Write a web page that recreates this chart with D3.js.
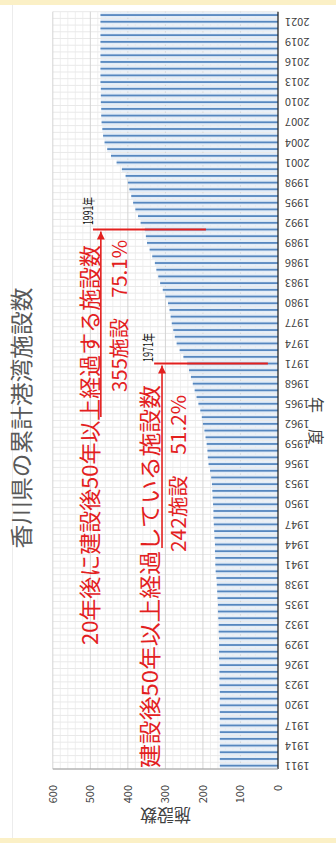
<!DOCTYPE html>
<html><head><meta charset="utf-8">
<script src="https://cdn.jsdelivr.net/npm/d3@7/dist/d3.min.js"></script>
<style>html,body{margin:0;padding:0;background:#fff;}svg{display:block;}</style>
</head><body>
<svg id="chart" width="336" height="843"></svg>
<script>
// ---- data ----
// category labels (FY); 2019 appears twice in the source table (平成31年 / 令和元年)
const years = d3.range(1911, 2020).concat([2019, 2020, 2021, 2022]);
// cumulative number of port facilities
const facilities = [
  155,155,155,155,155,155,155,155,155,
  155,155,155,156,156,156,156,157,157,157,
  157,158,158,159,160,160,161,162,163,164,
  166,167,167,168,168,169,170,171,172,172,
  173,174,175,176,178,181,185,187,188,190,
  193,196,200,203,207,212,217,222,227,232,
  237,242,252,262,270,275,279,283,286,289,
  293,300,307,314,319,324,328,335,342,349,
  352,355,366,373,380,386,391,396,400,406,
  416,430,445,455,462,466,468,470,471,471,
  472,472,472,473,473,473,473,473,473,473,
  473,473,473,473
];
const valueTicks = [0, 100, 200, 300, 400, 500, 600];
const chartTitle = "香川県の累計港湾施設数";
const xTitle = "年　度";
const yTitle = "施設数";
// annotations: marked years and the value range of their red lines
const markYears = [1971, 1991];
const markRanges = [[27, 330], [192, 493]];
const markYearLabels = ["1971年", "1991年"];
const noteTexts = ["20年後に建設後50年以上経過する施設数", "355施設　75.1%", "建設後50年以上経過している施設数", "242施設　51.2%"];

// ---- layout: drawn in a landscape frame, then rotated -90deg onto the portrait page ----
const W = 843, H = 336;
const svg = d3.select("#chart");
svg.append("rect").attr("width", 336).attr("height", 843).attr("fill", "#fff");
svg.append("rect").attr("x", 0).attr("y", 0).attr("width", 336).attr("height", 5).attr("fill", "#fbf0c6");
svg.append("rect").attr("x", 0).attr("y", 838).attr("width", 336).attr("height", 5).attr("fill", "#fbf0c6");
svg.append("line").attr("x1", 12.5).attr("x2", 12.5).attr("y1", 5).attr("y2", 838).attr("stroke", "#ececec");

const g = svg.append("g").attr("transform", `translate(0,${W}) rotate(-90)`);

const plot = {left: 74, right: 831.3, top: 52.8, bottom: 278};
const idx = d3.range(years.length);
const x = d3.scaleBand().domain(idx).range([plot.left, plot.right]).padding(0);
const y = d3.scaleLinear().domain([0, 600]).range([plot.bottom, plot.top]);
const step = x.step();
const jp = "'Noto Sans CJK JP', sans-serif";

// gridlines
const minor = d3.range(20, 601, 20).filter(v => v % 100 !== 0);
g.append("g").selectAll("line").data(minor).join("line")
  .attr("x1", plot.left).attr("x2", plot.right)
  .attr("y1", d => y(d)).attr("y2", d => y(d))
  .attr("stroke", "#efefef").attr("stroke-width", 1);
g.append("g").selectAll("line").data(d3.range(years.length + 1)).join("line")
  .attr("x1", d => plot.left + d * step).attr("x2", d => plot.left + d * step)
  .attr("y1", y(0)).attr("y2", y(600))
  .attr("stroke", "#e9e9e9").attr("stroke-width", 1);
g.append("g").selectAll("line").data(valueTicks.filter(v => v > 0)).join("line")
  .attr("x1", plot.left).attr("x2", plot.right)
  .attr("y1", d => y(d)).attr("y2", d => y(d))
  .attr("stroke", "#d4d4d4").attr("stroke-width", 1);

// bars: light body + dark core
g.append("g").selectAll("rect").data(facilities).join("rect")
  .attr("x", (d, i) => x(i) + 0.6).attr("width", step - 1.2)
  .attr("y", d => y(d)).attr("height", d => y(0) - y(d))
  .attr("fill", "#e2ecf7");
g.append("g").selectAll("rect").data(facilities).join("rect")
  .attr("x", (d, i) => x(i) + step / 2 - 0.9).attr("width", 1.8)
  .attr("y", d => y(d)).attr("height", d => y(0) - y(d))
  .attr("fill", "#5687bf");

// category axis (labels vertical in the landscape frame)
const tickIdx = idx.filter(i => i % 3 === 0);
const xAxis = g.append("g").attr("transform", `translate(0,${plot.bottom})`)
  .call(d3.axisBottom(x).tickValues(tickIdx).tickFormat(i => years[i]).tickSize(0));
xAxis.select(".domain").remove();
xAxis.selectAll(".tick text").remove();
xAxis.selectAll(".tick").append("text")
  .attr("transform", "rotate(-90)").attr("x", -7).attr("y", 0).attr("dy", "0.35em")
  .attr("text-anchor", "end").attr("fill", "#404040")
  .style("font-family", jp).style("font-size", "11px")
  .text(i => years[i]);
g.append("line").attr("x1", plot.left).attr("x2", plot.right).attr("y1", plot.bottom).attr("y2", plot.bottom)
  .attr("stroke", "#262626").attr("stroke-width", 1.3);

// value axis
const yAxis = g.append("g").attr("transform", `translate(${plot.left},0)`)
  .call(d3.axisLeft(y).tickValues(valueTicks).tickSize(0).tickPadding(16));
yAxis.select(".domain").remove();
yAxis.selectAll("text").style("font-family", jp).style("font-size", "11px").attr("fill", "#404040");
g.append("line").attr("x1", plot.left).attr("x2", plot.left).attr("y1", plot.top).attr("y2", plot.bottom)
  .attr("stroke", "#9a9a9a").attr("stroke-width", 1);

// titles
g.append("text").attr("x", 425).attr("y", 20).attr("text-anchor", "middle").attr("dominant-baseline", "central")
  .attr("textLength", 261).attr("lengthAdjust", "spacingAndGlyphs")
  .style("font-family", jp).style("font-size", "23px").attr("fill", "#595959").text(chartTitle);
g.append("text").attr("transform", "translate(422,317) rotate(180)")
  .attr("text-anchor", "middle").attr("dominant-baseline", "central")
  .style("font-family", jp).style("font-size", "16px").attr("fill", "#404040").text(xTitle);
g.append("text").attr("transform", `translate(27,${(plot.top + plot.bottom) / 2}) rotate(-90)`)
  .attr("text-anchor", "middle").attr("dominant-baseline", "central")
  .style("font-family", jp).style("font-size", "17px").attr("fill", "#404040").text(yTitle);

// annotations
const red = "#e3201e";
const defs = svg.append("defs");
defs.append("marker").attr("id", "arr").attr("viewBox", "0 0 10 10").attr("refX", 10).attr("refY", 5)
  .attr("markerWidth", 5).attr("markerHeight", 5).attr("orient", "auto")
  .append("path").attr("d", "M0,0L10,5L0,10z").attr("fill", red);

const yearCenter = yr => x(years.indexOf(yr)) + step / 2;
markYears.forEach((yr, k) => {
  g.append("line").attr("x1", yearCenter(yr)).attr("x2", yearCenter(yr))
    .attr("y1", y(markRanges[k][0])).attr("y2", y(markRanges[k][1]))
    .attr("stroke", red).attr("stroke-width", 2);
});
const yrLabelPos = [[481, 147, 29], [618, 87, 28]];
markYearLabels.forEach((t, k) => {
  g.append("text").attr("x", yrLabelPos[k][0]).attr("y", yrLabelPos[k][1]).attr("dominant-baseline", "central")
    .attr("textLength", yrLabelPos[k][2]).attr("lengthAdjust", "spacingAndGlyphs")
    .style("font-family", jp).style("font-size", "13px").attr("fill", "#111").text(t);
});
const arrows = [[426, y(472), yearCenter(1991) - 2], [295, y(309), yearCenter(1971) - 2]];
arrows.forEach(a => {
  g.append("line").attr("x1", a[0]).attr("x2", a[2]).attr("y1", a[1]).attr("y2", a[1])
    .attr("stroke", red).attr("stroke-width", 1.6).attr("marker-end", "url(#arr)");
});
const notePos = [[198, 88, 400, 22], [451, 118, 152, 20], [75, 148, 383, 22], [291, 177, 157, 20]];
noteTexts.forEach((t, k) => {
  const p = notePos[k];
  g.append("text").attr("x", p[0]).attr("y", p[1]).attr("dominant-baseline", "central")
    .attr("textLength", p[2]).attr("lengthAdjust", "spacingAndGlyphs")
    .style("font-family", jp).style("font-size", p[3] + "px").attr("fill", red).text(t);
});
</script>
</body></html>
